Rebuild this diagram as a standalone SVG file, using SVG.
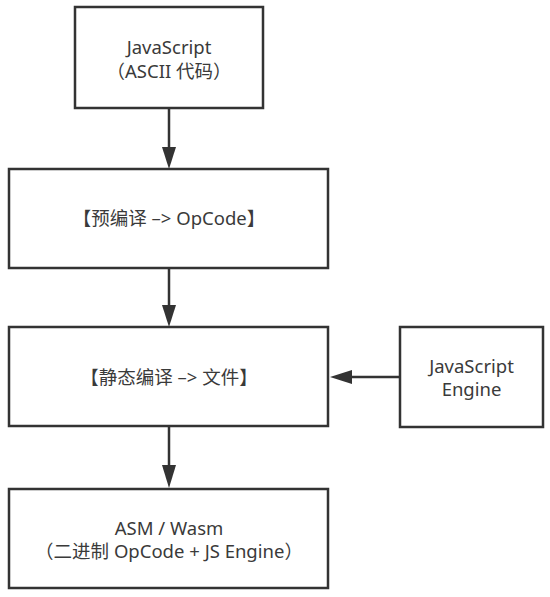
<svg xmlns="http://www.w3.org/2000/svg" width="550" height="597" viewBox="0 0 550 597">
<style>
.box{fill:#fff;stroke:#333;stroke-width:2.5}
.t{font-family:"Noto Sans","Noto Sans CJK SC",sans-serif;font-size:18.5px;fill:#3a3a3a;text-anchor:middle}
.c{stroke:#333;stroke-width:2.5;fill:none}
</style>
<rect width="550" height="597" fill="#fff"/>
<g id="connectors">
<line class="c" x1="169" y1="108" x2="169" y2="150"/>
<path d="M162,147 L176,147 L169,169 Z" fill="#333"/>
<line class="c" x1="169" y1="268" x2="169" y2="308"/>
<path d="M162,305 L176,305 L169,327 Z" fill="#333"/>
<line class="c" x1="169" y1="426" x2="169" y2="468"/>
<path d="M162,465 L176,465 L169,488 Z" fill="#333"/>
<line class="c" x1="400" y1="377" x2="349" y2="377"/>
<path d="M352,370 L352,384 L330,377 Z" fill="#333"/>
</g>
<g id="n1">
<rect class="box" x="75" y="7" width="188" height="101"/>
<text class="t" x="169" y="54">JavaScript</text>
<text class="t" x="169" y="78">（ASCII 代码）</text>
</g>
<g id="n2">
<rect class="box" x="9" y="169" width="319" height="99"/>
<text class="t" x="169" y="225">【预编译 –&gt; OpCode】</text>
</g>
<g id="n3">
<rect class="box" x="9" y="327" width="319" height="99"/>
<text class="t" x="169" y="384">【静态编译 –&gt; 文件】</text>
</g>
<g id="n4">
<rect class="box" x="400" y="327" width="143" height="100"/>
<text class="t" x="471.5" y="373">JavaScript</text>
<text class="t" x="471.5" y="396">Engine</text>
</g>
<g id="n5">
<rect class="box" x="9" y="489" width="319" height="99"/>
<text class="t" x="169" y="535">ASM / Wasm</text>
<text class="t" x="169" y="558">（二进制 OpCode + JS Engine）</text>
</g>
</svg>
